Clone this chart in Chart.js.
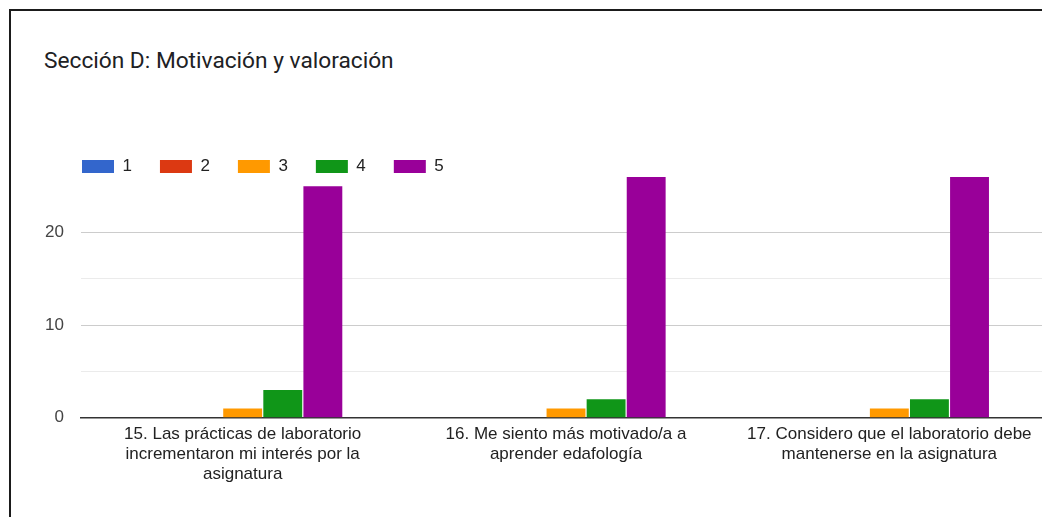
<!DOCTYPE html>
<html lang="es">
<head>
<meta charset="utf-8">
<title>Sección D: Motivación y valoración</title>
<script src="https://cdn.jsdelivr.net/npm/chart.js@4.4.1/dist/chart.umd.min.js"></script>
<style>
    html, body { margin: 0; padding: 0; background: #fff; overflow: hidden; }
    body { width: 1042px; height: 517px; position: relative; }
    .frame {
        position: absolute; left: 9px; top: 9px;
        width: 1100px; height: 600px;
        border: 2px solid #1b1b1b;
    }
    .title {
        position: absolute; left: 44px; top: 48px;
        font: 22.7px Roboto, Arial, sans-serif; line-height: 26px;
        color: #202124; white-space: nowrap;
    }
    #chart { position: absolute; left: 0; top: 0; }
</style>
</head>
<body>
<div class="frame"></div>
<div class="title">Sección D: Motivación y valoración</div>
<canvas id="chart" width="1062" height="517"></canvas>
<script>
// ── Data ──
const questions = [
    ['15. Las prácticas de laboratorio', 'incrementaron mi interés por la', 'asignatura'],
    ['16. Me siento más motivado/a a', 'aprender edafología'],
    ['17. Considero que el laboratorio debe', 'mantenerse en la asignatura'],
];
const ratings   = ['1', '2', '3', '4', '5'];
const colors    = ['#3366cc', '#dc3912', '#ff9900', '#109618', '#990099'];
// counts per rating, one value per question
const counts1 = [0, 0, 0];
const counts2 = [0, 0, 0];
const counts3 = [1, 1, 1];
const counts4 = [3, 2, 2];
const counts5 = [25, 26, 26];
const yMax    = 26;

const allCounts = [counts1, counts2, counts3, counts4, counts5];

const datasets = ratings.map((r, i) => ({
    label: r,
    data: allCounts[i],
    backgroundColor: colors[i],
    borderWidth: 0,
    barPercentage: 0.97,
    categoryPercentage: 0.62,
}));

const font = '"Liberation Sans", Arial, sans-serif';

// y labels are clipped to the axis box; give them room on the left
const yLabelRoom = {
    id: 'yLabelRoom',
    afterLayout(chart) { chart.scales.y.left = 20; },
};

new Chart(document.getElementById('chart'), {
    type: 'bar',
    data: { labels: questions, datasets },
    plugins: [yLabelRoom],
    options: {
        responsive: false,
        animation: false,
        layout: { padding: { left: 54, top: 130, right: 11, bottom: 26 } },
        plugins: {
            title: { display: false },
            tooltip: { enabled: false },
            legend: {
                position: 'top',
                align: 'start',
                maxHeight: 47,
                labels: {
                    boxWidth: 32, boxHeight: 13, padding: 28,
                    color: '#222', font: { family: font, size: 17 },
                },
            },
        },
        scales: {
            x: {
                grid: { display: false, drawTicks: false },
                border: { display: true, color: '#333', width: 1.5 },
                ticks: {
                    color: '#222', padding: 6, maxRotation: 0, autoSkip: false,
                    font: { family: font, size: 17, lineHeight: 1.2 },
                },
            },
            y: {
                min: 0, max: yMax,
                afterBuildTicks: axis => { axis.ticks = axis.ticks.filter(t => t.value % 5 === 0); },
                afterFit: axis => { axis.width = 27; },
                border: { display: false },
                grid: {
                    drawTicks: false,
                    color: c => c.tick.value % 10 === 0 ? '#cccccc' : '#ebebeb',
                },
                ticks: {
                    stepSize: 5, padding: 17, color: '#444',
                    font: { family: font, size: 17 },
                    callback: v => v % 10 === 0 ? String(v) : '',
                },
            },
        },
    },
});
</script>
</body>
</html>
